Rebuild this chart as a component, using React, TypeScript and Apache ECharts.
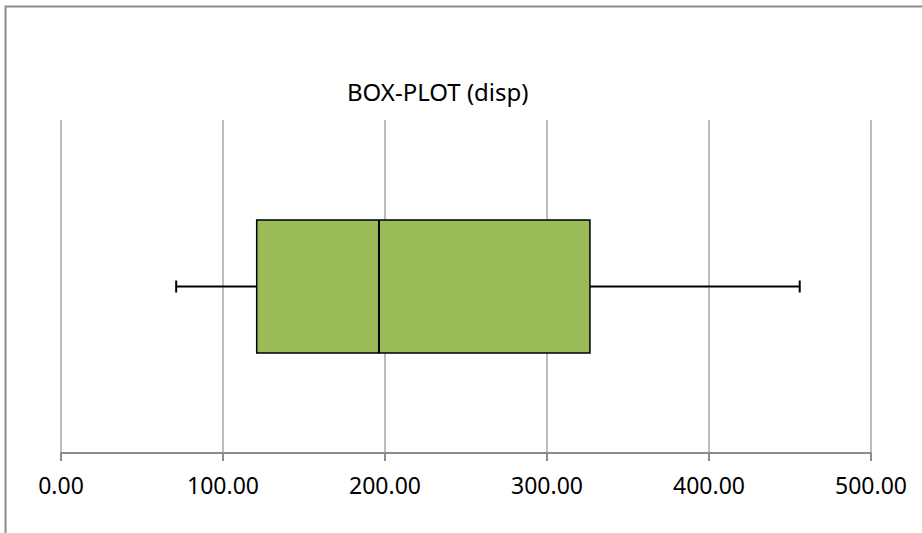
import React, { useEffect, useRef } from "react";
import * as echarts from "echarts";

const titleText = "BOX-PLOT (disp)";
const categories = ["disp"];
// [min, Q1, median, Q3, max]
const boxStats = [71.1, 120.8, 196.3, 326.5, 456.0];
const axisMin = 0;
const axisMax = 500;
const axisInterval = 100;

export default function App() {
  const ref = useRef<HTMLDivElement>(null);

  useEffect(() => {
    if (!ref.current) return;
    const chart = echarts.init(ref.current, null, { renderer: "svg" });
    const font = "'Noto Sans', sans-serif";

    const option: any = {
      animation: false,
      backgroundColor: "#ffffff",
      title: {
        text: titleText,
        left: 342,
        top: 74,
        textStyle: { fontFamily: font, fontSize: 24, fontWeight: "normal", color: "#000" },
      },
      grid: { left: 61, right: 51, top: 120, bottom: 80, containLabel: false },
      xAxis: {
        type: "value",
        min: axisMin,
        max: axisMax,
        interval: axisInterval,
        axisLine: { show: true, lineStyle: { color: "#8c8c8c", width: 2 } },
        axisTick: { show: true, length: 8, lineStyle: { color: "#8c8c8c", width: 2 } },
        splitLine: { show: true, lineStyle: { color: "#a6a6a6", width: 1.5 } },
        axisLabel: {
          margin: 20,
          fontFamily: font,
          fontSize: 23,
          color: "#000",
          formatter: (v: number) => v.toFixed(2),
        },
      },
      yAxis: {
        type: "category",
        data: categories,
        axisLine: { show: false },
        axisTick: { show: false },
        axisLabel: { show: false },
        splitLine: { show: false },
      },
      series: [
        {
          type: "custom",
          encode: { x: [1, 2, 3, 4, 5], y: 0 },
          data: [[0, ...boxStats]],
          renderItem: (params: any, api: any) => {
            const cat = api.value(0);
            const vMin = api.value(1);
            const q1 = api.value(2);
            const med = api.value(3);
            const q3 = api.value(4);
            const vMax = api.value(5);
            const band = api.size([0, 1])[1];
            const half = (band * 0.4) / 2;
            const capHalf = 6;
            const pMin = api.coord([vMin, cat]);
            const pQ1 = api.coord([q1, cat]);
            const pMed = api.coord([med, cat]);
            const pQ3 = api.coord([q3, cat]);
            const pMax = api.coord([vMax, cat]);
            const cy = pMed[1];
            const lineStyle = { stroke: "#000", lineWidth: 2, fill: null };
            return {
              type: "group",
              children: [
                {
                  type: "line",
                  shape: { x1: pMin[0], y1: cy, x2: pQ1[0], y2: cy },
                  style: lineStyle,
                },
                {
                  type: "line",
                  shape: { x1: pQ3[0], y1: cy, x2: pMax[0], y2: cy },
                  style: lineStyle,
                },
                {
                  type: "line",
                  shape: { x1: pMin[0], y1: cy - capHalf, x2: pMin[0], y2: cy + capHalf },
                  style: lineStyle,
                },
                {
                  type: "line",
                  shape: { x1: pMax[0], y1: cy - capHalf, x2: pMax[0], y2: cy + capHalf },
                  style: lineStyle,
                },
                {
                  type: "rect",
                  shape: { x: pQ1[0], y: cy - half, width: pQ3[0] - pQ1[0], height: half * 2 },
                  style: { fill: "#9BBB59", stroke: "#000", lineWidth: 1.5 },
                },
                {
                  type: "line",
                  shape: { x1: pMed[0], y1: cy - half, x2: pMed[0], y2: cy + half },
                  style: lineStyle,
                },
              ],
            };
          },
        },
      ],
      graphic: [
        {
          type: "polyline",
          shape: { points: [[5.5, 533], [5.5, 6.5], [922, 6.5]] },
          style: { stroke: "#8c8c8c", lineWidth: 2, fill: null },
          silent: true,
        },
      ],
    };

    chart.setOption(option);
    return () => chart.dispose();
  }, []);

  return (
    <div
      ref={ref}
      style={{ position: "absolute", left: 0, top: 0, width: 922, height: 533 }}
    />
  );
}
